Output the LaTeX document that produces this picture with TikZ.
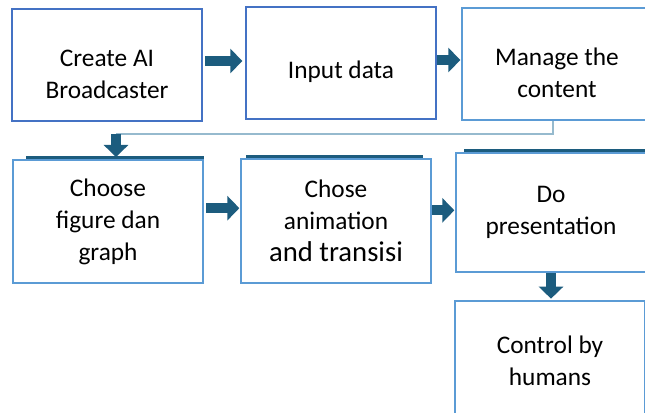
\documentclass[tikz,border=0pt]{standalone}
\usepackage{fontspec}
\setmainfont{Carlito}
\usepackage{tikz}
\usetikzlibrary{arrows.meta, positioning, calc}
\definecolor{boxblue}{RGB}{68,114,196}
\definecolor{paleblue}{RGB}{91,155,213}
\definecolor{arrowteal}{RGB}{28,92,126}
\definecolor{linkgray}{RGB}{150,186,206}

\begin{document}
\begin{tikzpicture}[
    x=0.75pt, y=-0.75pt,
    box/.style={draw=boxblue, line width=1.5pt, minimum width=142.5pt, minimum height=84pt, inner sep=0pt},
    pale/.style={box, draw=paleblue},
    txt/.style={align=center, font=\fontsize{19}{24}\selectfont},
    flow/.style={draw=arrowteal, line width=7.5pt, -{Triangle[width=18pt, length=9pt]}},
    link/.style={draw=linkgray, line width=1.5pt},
    topbar/.style={draw=arrowteal, line width=2.2pt}
]
    \clip (0,0) rectangle (645,413);

    % first row
    \node[box] (create) at (107,65) {};
    \node[box] (input) at (341,63.5) {};
    \node[pale] (manage) at (557,64) {};
    \node[txt] (create-t) at ([yshift=-6.75pt]create.center) {Create AI\\Broadcaster};
    \node[txt] (input-t) at ([yshift=-6.5pt]input.center) {Input data};
    \node[txt] (manage-t) at ([yshift=-6.75pt]manage.center) {Manage the\\content};

    % second row
    \node[pale, txt, minimum height=92.25pt] (choose) at (108,221.5) {Choose\\figure dan\\graph};
    \node[pale, txt, minimum height=93pt] (anim) at (336,221) {Chose\\animation\\{\fontsize{21.5}{24}\selectfont and transisi}};
    \node[pale, txt, minimum height=89.25pt] (present) at (551,212.5) {Do\\presentation};
    \node[pale, txt, minimum height=90pt] (control) at (550,361) {Control by\\humans};

    % dark edges over the second row
    \draw[topbar] ([xshift=10.5pt, yshift=1.1pt]choose.north west) -- ([yshift=1.1pt]choose.north east);
    \draw[topbar] ([xshift=4.5pt, yshift=1.1pt]anim.north west) -- ([xshift=-6.75pt, yshift=1.1pt]anim.north east);
    \draw[topbar] ([xshift=6.75pt, yshift=1.1pt]present.north west) -- ([yshift=1.1pt]present.north east);

    % arrows
    \draw[flow, shorten <=1.5pt, shorten >=2pt] ([yshift=3pt]create.east) -- ([yshift=3pt]create.east -| input.west);
    \draw[flow, shorten >=0.5pt] ([yshift=2.6pt]input.east) -- ([yshift=2.6pt]input.east -| manage.west);
    \coordinate (bend) at (116,134);
    \draw[link] ([xshift=-3pt]manage.south) |- (bend);
    \draw[flow, shorten >=1.5pt] (bend) -- (bend |- choose.north);
    \draw[flow, shorten <=1.5pt, shorten >=0.5pt] ([yshift=10pt]choose.east) -- ([yshift=10pt]choose.east -| anim.west);
    \draw[flow, shorten >=0.5pt] ([yshift=8pt]anim.east) -- ([yshift=8pt]anim.east -| present.west);
    \draw[flow, shorten >=1pt] (present.south) -- (present.south |- control.north);
\end{tikzpicture}
\end{document}
